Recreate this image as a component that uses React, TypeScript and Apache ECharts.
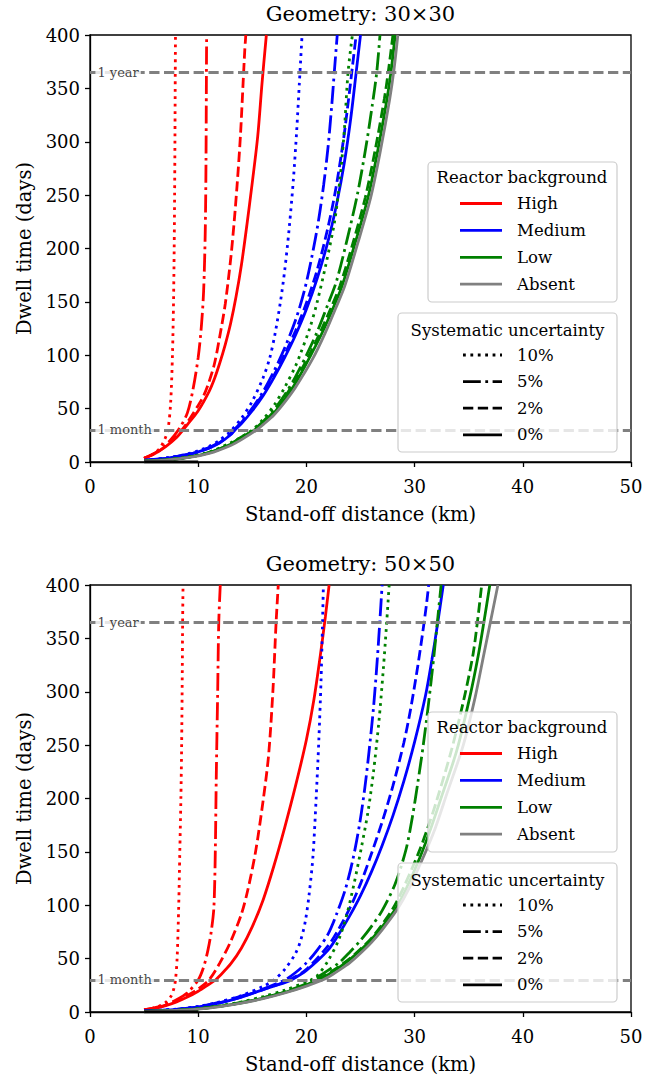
import React, { useEffect, useRef } from "react";
import * as echarts from "echarts";

// ---------- data (distance km, dwell time days) ----------
const xTicks = [0, 10, 20, 30, 40, 50];
const yTicks = [0, 50, 100, 150, 200, 250, 300, 350, 400];
const titles = ["Geometry: 30×30", "Geometry: 50×50"];
const backgrounds = ["High", "Medium", "Low", "Absent"];
const systematics = ["10%", "5%", "2%", "0%"];
const refLevels = [365, 30];
const refLabels = ["1 year", "1 month"];

// Geometry 30x30
const g30High10 = [[5,3.5],[5.5,5.5],[6,8.5],[6.5,13.5],[6.9,21],[7.2,30],[7.45,55],[7.62,100],[7.72,150],[7.78,200],[7.82,250],[7.85,300],[7.88,365],[7.9,400]];
const g30High5 = [[5,3.5],[6,8.5],[7,16],[7.8,25],[8.3,32],[9,46],[9.5,67],[10,98],[10.3,128],[10.5,160],[10.65,215],[10.72,280],[10.76,365],[10.78,400]];
const g30High2 = [[5,3.5],[6,8],[7,15],[8,24],[8.5,30],[9,37],[10,53],[10.5,62],[11,75],[11.5,92],[12,118],[12.5,148],[13,190],[13.3,222],[13.6,260],[13.9,305],[14.15,355],[14.3,385],[14.4,400]];
const g30High0 = [[5,3.5],[6,8],[7,14.5],[8,23],[8.6,30],[9,35],[10,48],[11,66],[11.5,78],[12,93],[12.5,110],[13,130],[13.5,155],[14,185],[14.5,222],[15,262],[15.5,305],[15.9,355],[16.3,400]];
const g30Med10 = [[5,1.5],[7,3.7],[9,7.5],[10,10.5],[11,14.5],[12,20.5],[13,29],[14,41],[15,57],[16,79],[16.6,97],[17.1,120],[17.6,150],[18,180],[18.4,218],[18.8,265],[19.1,310],[19.35,355],[19.6,400]];
const g30Med5 = [[5,1.5],[7,3.5],[9,7.1],[10,9.8],[11,13.5],[12,19],[13,26.5],[13.3,30],[14,37.5],[15,50.5],[16,66],[17,85],[18,107],[19,133],[19.8,160],[20.5,192],[21.1,225],[21.6,260],[22,295],[22.35,335],[22.6,368],[22.85,400]];
const g30Med2 = [[5,1.5],[7,3.5],[9,7],[10,9.6],[11,13.2],[12,18.3],[13,26],[13.35,30],[14,37],[15,49.5],[16,64],[17,81],[18,101],[19,123],[20,149],[21,180],[22,220],[22.7,255],[23.4,300],[23.9,340],[24.25,370],[24.6,400]];
const g30Med0 = [[5,1.5],[7,3.5],[9,7],[10,9.5],[11,13],[12,18],[13,25.5],[13.4,30],[14,36],[15,48],[16,62],[17,79],[18,98],[19,119],[20,143],[21,172],[22,207],[22.8,242],[23.5,280],[24.1,322],[24.6,365],[25,400]];
const g30Low10 = [[5,0.8],[7,2.1],[9,4.6],[11,9.3],[13,18],[14,23.5],[15,30],[16,40],[17,53],[18,70],[19,90],[19.4,100],[20.3,125],[21,150],[21.8,185],[22.6,225],[23.1,265],[23.5,310],[23.85,365],[24.25,400]];
const g30Low5 = [[5,0.8],[7,2],[9,4.4],[11,8.8],[13,17],[14,23.5],[15.1,30],[16,38],[17,49],[18,63],[19,80],[20,100],[21,122],[22,148],[22.8,170],[23.8,210],[24.7,250],[25.5,295],[26.1,335],[26.5,365],[26.8,400]];
const g30Low2 = [[5,0.8],[7,2],[9,4.4],[11,8.7],[13,16.8],[14,23],[15.15,30],[16,37],[17,47.5],[18,61],[19,77],[20.25,100],[21.3,122],[22.3,145],[23.1,165],[24.3,205],[25.45,248],[26.35,292],[27.2,340],[27.6,368],[28,400]];
const g30Low0 = [[5,0.8],[7,2],[9,4.3],[11,8.5],[13,16.5],[14,22.5],[15.2,30],[16,36],[17,46],[18,59],[19,74],[20.4,100],[21.5,122],[22.5,145],[23.3,165],[24.5,205],[25.7,248],[26.6,292],[27.45,340],[27.85,368],[28.2,400]];
const g30Absent = [[5,0.7],[7,1.8],[9,4],[11,8],[13,15.5],[14,21],[15.4,30],[16,35],[17,44],[18,56],[19,70],[20.6,97],[21.7,120],[22.75,145],[23.55,165],[24.75,205],[25.95,248],[26.85,292],[27.7,340],[28.1,368],[28.45,400]];

// Geometry 50x50
const g50High10 = [[5,2],[6,4],[6.5,6],[7,9],[7.5,15],[7.75,22],[7.9,30],[8.05,50],[8.2,100],[8.3,150],[8.4,200],[8.47,250],[8.53,320],[8.56,365],[8.6,400]];
const g50High5 = [[5,2],[6,4],[7,7],[8,11.5],[9,18],[10,30],[10.5,42],[10.9,58],[11.2,75],[11.45,98],[11.58,150],[11.67,220],[11.8,300],[11.9,365],[12.04,400]];
const g50High2 = [[5,2],[6,3.8],[7,6.5],[8,10.5],[9,15.5],[10,21.5],[11,30],[12,46],[13,66],[14,92],[14.6,115],[15.3,150],[16,198],[16.5,240],[16.9,300],[17.2,365],[17.4,400]];
const g50High0 = [[5,2],[6,3.5],[7,6],[8,9.5],[9,14],[10,19.5],[11,26],[11.6,30],[12,34],[13,45],[14,60],[15,80],[16,105],[17,137],[18,173],[19,212],[20,255],[20.7,293],[21.3,335],[21.75,370],[22.1,400]];
const g50Med10 = [[5,0.8],[8,2.6],[10,5.2],[12,9.5],[14,15.5],[16,24],[17,30],[18,40],[19,55],[19.5,68],[19.9,85],[20.25,110],[20.6,145],[20.9,200],[21.15,255],[21.35,310],[21.48,360],[21.57,400]];
const g50Med5 = [[5,0.8],[8,2.5],[10,5],[12,9.2],[14,15],[16,21.5],[18,30],[19,37],[20,46],[21,58],[22,73],[22.8,92],[23.6,115],[24.3,143],[24.9,175],[25.4,210],[25.8,245],[26.2,285],[26.55,330],[26.8,368],[27,400]];
const g50Med2 = [[5,0.8],[8,2.4],[10,4.8],[12,8.7],[14,14.2],[16,21],[18.4,30],[20,40],[22,62],[23,78],[24,97],[25,120],[26,148],[27,178],[28,212],[29,252],[29.6,282],[30.2,318],[30.7,352],[31.1,382],[31.3,400]];
const g50Med0 = [[5,0.8],[8,2.4],[10,4.7],[12,8.6],[14,14],[16,21],[18,27.5],[18.6,30],[20,39],[22,58],[23,73],[24,90],[25,109],[26,131],[27,156],[28,184],[29,216],[30,253],[31,296],[31.6,330],[32.1,362],[32.65,400]];
const g50Low10 = [[5,0.5],[8,1.6],[10,3.2],[12,5.8],[14,9.5],[16,14.5],[18,20.5],[20.4,30],[21,34],[22,48],[23,68],[23.7,90],[24.4,120],[25.1,155],[25.7,188],[26.2,225],[26.7,272],[27.1,320],[27.4,362],[27.65,400]];
const g50Low5 = [[5,0.5],[8,1.5],[10,3],[12,5.5],[14,9],[16,13.5],[18,19],[20,26.5],[20.6,30],[22,39],[23,46],[24,56],[25,67],[26,80],[27,95],[28.2,120],[29.2,152],[29.8,183],[30.3,215],[30.8,250],[31.3,290],[31.8,335],[32.15,370],[32.45,400]];
const g50Low2 = [[5,0.5],[8,1.5],[10,2.9],[12,5.3],[14,8.7],[16,13.2],[18,18.7],[20,25.5],[20.9,30],[22,36],[23,42.5],[24,50],[25,59],[26,69],[27,82],[28,97],[29,117],[30.4,150],[31.3,175],[32.1,200],[33.4,245],[34.6,295],[35.4,335],[35.8,365],[36.2,400]];
const g50Low0 = [[5,0.5],[8,1.5],[10,2.9],[12,5.2],[14,8.5],[16,13],[18,18.4],[20,25],[21.1,30],[22,35],[23,41.5],[24,49],[25,58],[26,68],[27,80],[28.2,96],[29.2,115],[30.5,145],[31.5,172],[32.6,205],[33.9,245],[35.1,295],[35.9,335],[36.4,365],[36.95,400]];
const g50Absent = [[5,0.4],[8,1.4],[10,2.7],[12,5],[14,8.2],[16,12.5],[18,17.8],[20,24.3],[21.5,30],[22,32.5],[23,39],[24,46],[25,55],[26,65],[27,77],[28.45,97],[29.5,116],[30.8,145],[31.9,172],[33,205],[34.5,250],[35.6,295],[36.4,335],[37,365],[37.7,400]];

// legend proxy segment drawn on the x axis
const proxySegment = [[5, 0], [10, 0]];

// ---------- styles ----------
const FONT = "DejaVu Serif, serif";
const COLORS = ["#ff0000", "#0000ff", "#008000", "#808080"];
const LW = 2.8;
const DASHES: any[] = [[2.8, 4.6], [17.8, 4.5, 2.8, 4.5], [10.3, 4.5], "solid"];

const plots = [
  {
    title: titles[0],
    curves: [
      [g30High10, g30High5, g30High2, g30High0],
      [g30Med10, g30Med5, g30Med2, g30Med0],
      [g30Low10, g30Low5, g30Low2, g30Low0],
      [null, null, null, g30Absent],
    ],
  },
  {
    title: titles[1],
    curves: [
      [g50High10, g50High5, g50High2, g50High0],
      [g50Med10, g50Med5, g50Med2, g50Med0],
      [g50Low10, g50Low5, g50Low2, g50Low0],
      [null, null, null, g50Absent],
    ],
  },
];

const GRID_LEFT = 90;
const GRID_W = 541;
const GRID_H = 427;
const GRID_TOPS = [35, 585];

function legendElements(off: number) {
  const els: any[] = [];
  const font = `16.5px ${FONT}`;
  els.push({
    type: "rect", z: 100,
    shape: { x: 428, y: 162 + off, width: 189, height: 140, r: 4 },
    style: { fill: "rgba(255,255,255,0.8)", stroke: "#cccccc", lineWidth: 1.2 },
  });
  els.push({
    type: "text", z: 101, x: 522, y: 177 + off,
    style: { text: "Reactor background", font, fill: "#000", textAlign: "center", textVerticalAlign: "middle", align: "center", verticalAlign: "middle" },
  });
  backgrounds.forEach((name, i) => {
    const y = 203.5 + off + i * 26.9;
    els.push({
      type: "line", z: 101,
      shape: { x1: 460, y1: y, x2: 502, y2: y },
      style: { stroke: COLORS[i], lineWidth: LW },
    });
    els.push({
      type: "text", z: 101, x: 517, y,
      style: { text: name, font, fill: "#000", textAlign: "left", textVerticalAlign: "middle", align: "left", verticalAlign: "middle" },
    });
  });
  els.push({
    type: "rect", z: 100,
    shape: { x: 398, y: 313 + off, width: 219, height: 139, r: 4 },
    style: { fill: "rgba(255,255,255,0.8)", stroke: "#cccccc", lineWidth: 1.2 },
  });
  els.push({
    type: "text", z: 101, x: 507.5, y: 330 + off,
    style: { text: "Systematic uncertainty", font, fill: "#000", textAlign: "center", textVerticalAlign: "middle", align: "center", verticalAlign: "middle" },
  });
  systematics.forEach((name, i) => {
    const y = 355 + off + i * 26.6;
    const d = DASHES[i];
    els.push({
      type: "line", z: 101,
      shape: { x1: 463, y1: y, x2: 502, y2: y },
      style: { stroke: "#000", lineWidth: LW, lineDash: d === "solid" ? null : d },
    });
    els.push({
      type: "text", z: 101, x: 517, y,
      style: { text: name, font, fill: "#000", textAlign: "left", textVerticalAlign: "middle", align: "left", verticalAlign: "middle" },
    });
  });
  return els;
}

function buildOption() {
  const grid: any[] = [];
  const xAxis: any[] = [];
  const yAxis: any[] = [];
  const series: any[] = [];
  const title: any[] = [];
  const axisLine = { show: true, onZero: false, lineStyle: { color: "#000", width: 1.3 } };
  const axisTick = { show: true, inside: false, length: 5, lineStyle: { color: "#000", width: 1.3 } };
  const tickStyle = { fontFamily: FONT, fontSize: 18, color: "#000" };
  const nameStyle = { fontFamily: FONT, fontSize: 19.5, color: "#000" };

  plots.forEach((p, gi) => {
    grid.push({
      left: GRID_LEFT, top: GRID_TOPS[gi], width: GRID_W, height: GRID_H,
      show: true, borderColor: "#000", borderWidth: 1.3, backgroundColor: "transparent",
      containLabel: false,
    });
    title.push({
      text: p.title, left: GRID_LEFT + GRID_W / 2, top: GRID_TOPS[gi] - 32, textAlign: "center", padding: 0,
      textStyle: { fontFamily: FONT, fontSize: 21, fontWeight: "normal", color: "#000" },
    });
    xAxis.push({
      type: "value", gridIndex: gi, min: xTicks[0], max: xTicks[xTicks.length - 1], interval: 10,
      axisLine, axisTick, splitLine: { show: false },
      axisLabel: { ...tickStyle, margin: 15, formatter: (v: number) => String(v) },
      name: "Stand-off distance (km)", nameLocation: "middle", nameGap: 42,
      nameTextStyle: { ...nameStyle },
    });
    yAxis.push({
      type: "value", gridIndex: gi, min: yTicks[0], max: yTicks[yTicks.length - 1], interval: 50,
      axisLine, axisTick, splitLine: { show: false },
      axisLabel: { ...tickStyle, margin: 10 },
      name: "Dwell time (days)", nameLocation: "middle", nameGap: 55,
      nameTextStyle: { ...nameStyle },
    });

    // horizontal reference lines (below curves)
    series.push({
      type: "line", xAxisIndex: gi, yAxisIndex: gi, z: 1, silent: true,
      data: [], showSymbol: false,
      markLine: {
        silent: true, symbol: "none", animation: false,
        label: { show: false },
        lineStyle: { color: "#808080", width: 2.8, type: [10.3, 4.5], cap: "butt" },
        data: refLevels.map((lvl) => ({ yAxis: lvl })),
      },
    });

    p.curves.forEach((row, bi) => {
      row.forEach((data, si) => {
        if (!data) return;
        series.push({
          type: "line", xAxisIndex: gi, yAxisIndex: gi, z: 3, silent: true,
          name: `${backgrounds[bi]} ${systematics[si]}`,
          data, showSymbol: false, symbol: "none", smooth: 0.3,
          lineStyle: { color: COLORS[bi], width: LW, type: DASHES[si], cap: "butt" },
          emphasis: { disabled: true },
        });
      });
    });

    series.push({
      type: "line", xAxisIndex: gi, yAxisIndex: gi, z: 3, silent: true,
      data: proxySegment, showSymbol: false, symbol: "none",
      lineStyle: { color: "#000", width: LW },
    });

    // reference line labels (above the dashed lines)
    series.push({
      type: "scatter", xAxisIndex: gi, yAxisIndex: gi, z: 10, zlevel: 0, silent: true,
      symbolSize: 0,
      data: refLevels.map((lvl, i) => ({ value: [0.5, lvl], label: { formatter: refLabels[i] } })),
      label: {
        show: true, position: "right", distance: 0, backgroundColor: "#fff",
        color: "#111", fontFamily: FONT, fontSize: 13, padding: [1, 2],
      },
    });
  });

  return {
    animation: false,
    backgroundColor: "#fff",
    title,
    grid,
    xAxis,
    yAxis,
    series,
    graphic: { elements: [...legendElements(0), ...legendElements(550)] },
  };
}

export default function App() {
  const ref = useRef<HTMLDivElement>(null);
  useEffect(() => {
    if (!ref.current) return;
    const chart = echarts.init(ref.current, null, { renderer: "svg" });
    chart.setOption(buildOption() as any);
    return () => chart.dispose();
  }, []);
  return (
    <div
      ref={ref}
      style={{ position: "absolute", left: 0, top: 0, width: 649, height: 1076, background: "#fff" }}
    />
  );
}
